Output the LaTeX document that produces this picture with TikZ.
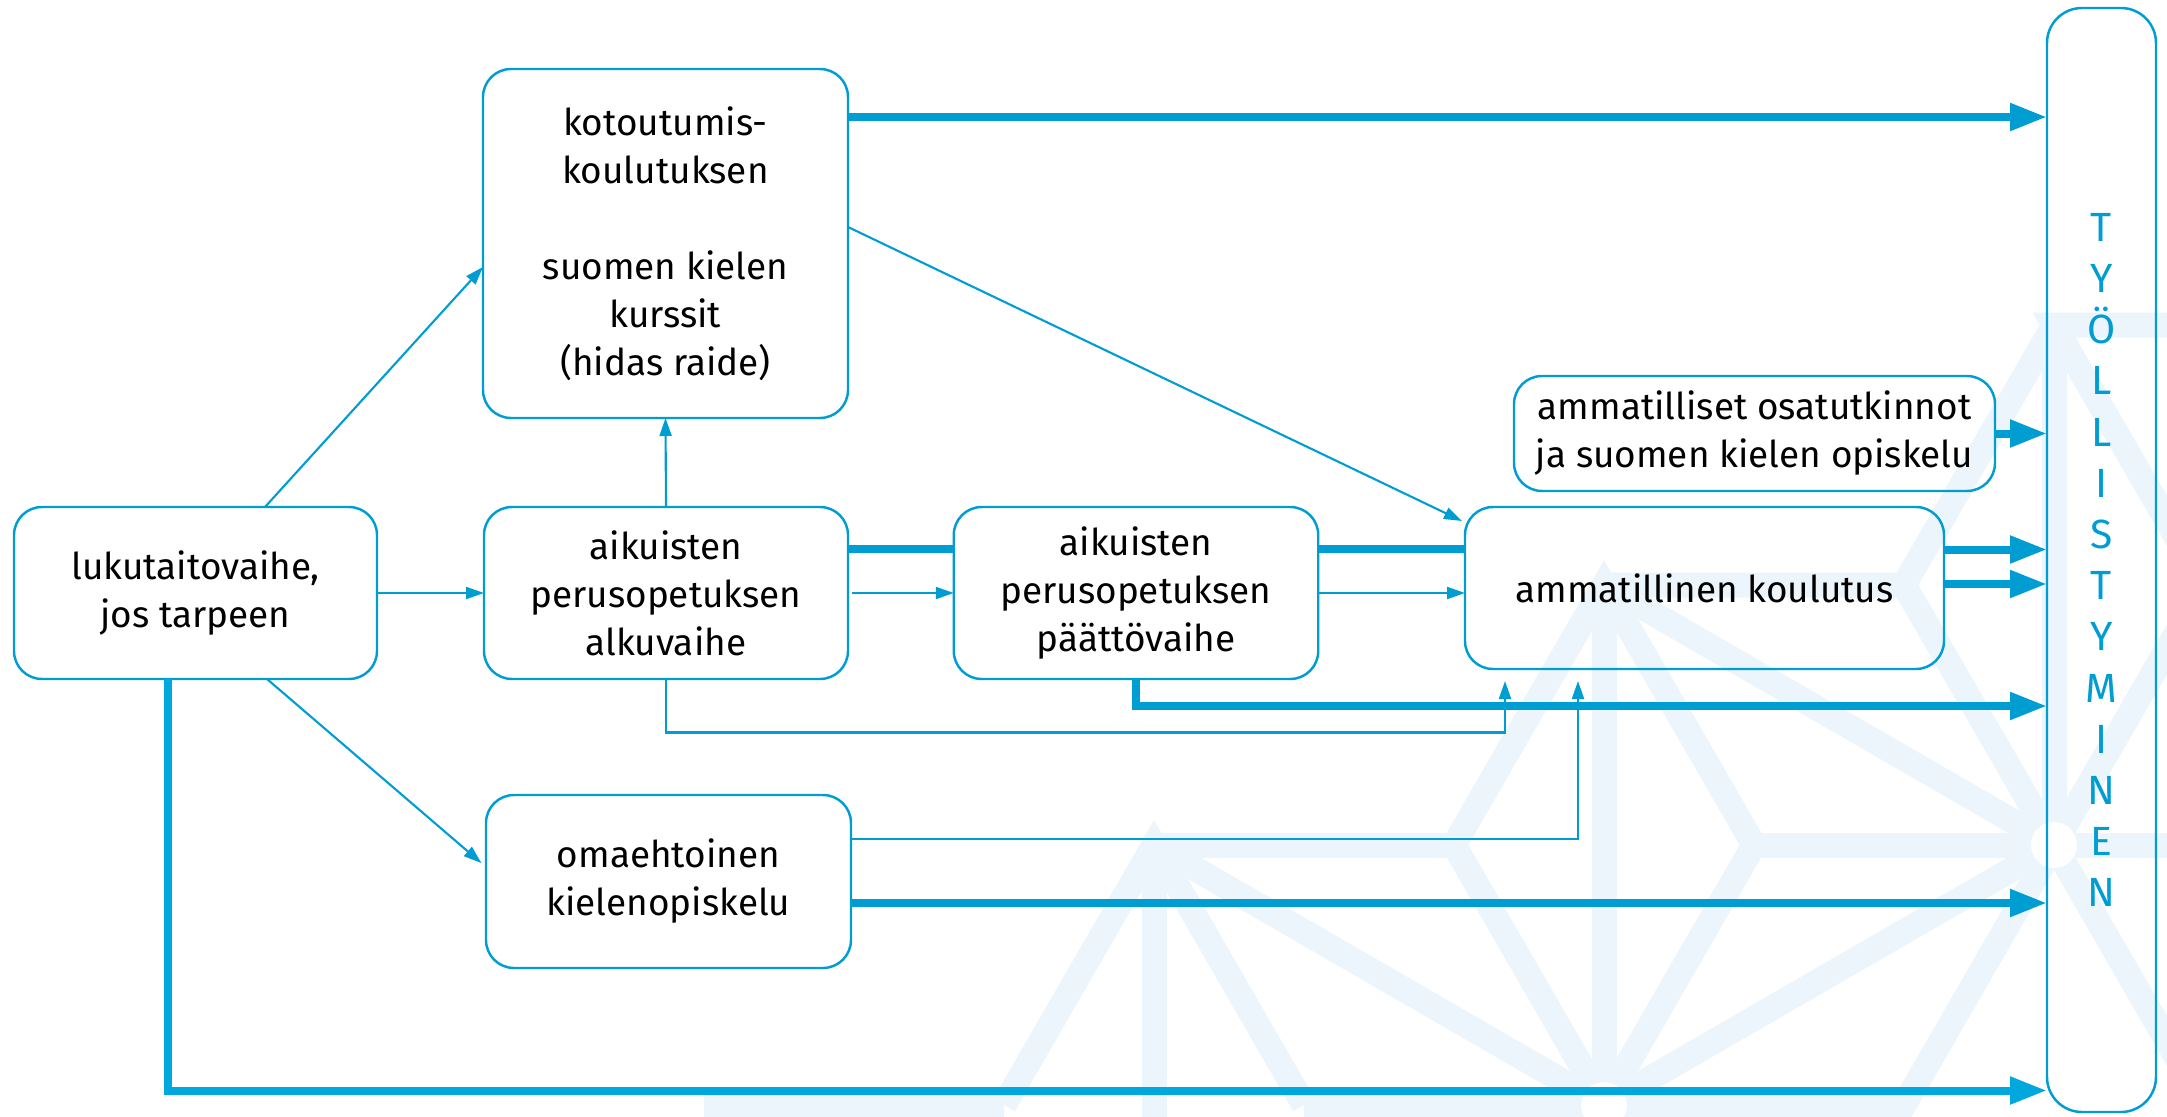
\documentclass[tikz,border=0pt]{standalone}
\usepackage{fontspec}
\setmainfont{Fira Sans}
\usetikzlibrary{arrows.meta}
\usetikzlibrary{positioning,calc}
\definecolor{kblue}{RGB}{0,157,211}
\definecolor{kbright}{RGB}{0,168,222}
\definecolor{wmark}{RGB}{236,245,251}

\begin{document}
\begin{tikzpicture}
		\useasboundingbox (0,0) rectangle (21.67,-11.17);

		\begin{scope}[wmark,line width=0.25cm]
			\clip (0,0) rectangle (21.67,-11.17);
			\coordinate (h2) at (16.04,-11.05);
			\coordinate (h1) at (20.54,-8.45);
			\coordinate (t) at (16.04,-5.85);
			\coordinate (p11) at (20.54,-3.25);
			\coordinate (l3) at (11.54,-8.45);
			\coordinate (pm21) at (7.04,-11.05);
			\coordinate (pm10) at (11.54,-13.65);
			\coordinate (c1) at (14.54,-8.45);
			\coordinate (c2) at (17.54,-8.45);
			\coordinate (c3) at (19.04,-5.85);
			\coordinate (c4) at (10.04,-11.05);
			\coordinate (c5) at (13.04,-11.05);
			\coordinate (c6) at (22.04,-5.85);
			\coordinate (c7) at (19.04,-11.05);
			\coordinate (c8) at (23.54,-8.45);
			\coordinate (c9) at (22.04,-11.05);
			\coordinate (c10) at (23.54,-3.25);
			\draw (h2) -- (c1) -- (t) -- (c2) -- cycle;
			\draw (t) -- (h2);
			\draw (l3) -- (c1);
			\draw (c2) -- (h1);
			\draw (l3) -- (h2) -- (h1) -- (t);
			\draw (t) -- (c3) -- (p11);
			\draw (c3) -- (h1);
			\draw (c4) -- (l3) -- (c5);
			\draw (l3) -- (pm10);
			\draw (pm21) -- (c4);
			\draw (c5) -- (h2) -- (c7) -- (h1);
			\draw (p11) -- (h1);
			\draw (h1) -- (c6) -- (p11) -- (c10);
			\draw (h1) -- (c8);
			\draw (h1) -- (c9);
			\fill[white] (h1) circle (0.23);
			\fill[white] (h2) circle (0.23);
		\end{scope}

		\begin{scope}[every node/.style={draw=kblue,line width=0.7pt,rounded corners=0.28cm,
				align=center,inner sep=0pt,outer sep=0pt,font={\fontsize{10.5}{13.66}\selectfont}}]
			\node[minimum width=3.63cm,minimum height=1.72cm] (luku) at (1.955,-5.93) {lukutaitovaihe,\\jos tarpeen};
			\node[minimum width=3.65cm,minimum height=3.49cm] (kotou) at (6.655,-2.435) {kotoutumis-\\koulutuksen\\[0.48cm]suomen kielen\\kurssit\\(hidas raide)};
			\node[minimum width=3.64cm,minimum height=1.72cm] (alku) at (6.66,-5.93) {aikuisten\\perusopetuksen\\alkuvaihe};
			\node[minimum width=3.645cm,minimum height=1.72cm] (paatto) at (11.36,-5.93) {aikuisten\\perusopetuksen\\päättövaihe};
			\node[minimum width=4.79cm,minimum height=1.62cm] (amma) at (17.045,-5.88) {ammatillinen koulutus};
			\node[minimum width=4.81cm,minimum height=1.15cm] (osa) at (17.545,-4.335) {ammatilliset osatutkinnot\\ja suomen kielen opiskelu};
			\node[minimum width=3.65cm,minimum height=1.73cm] (omae) at (6.685,-8.815) {omaehtoinen\\kielenopiskelu};
			\node[minimum width=1.09cm,minimum height=11.04cm,rounded corners=0.35cm,text=kblue,
				font={\fontsize{11.6}{14.57}\selectfont}] (tyo) at (21.015,-5.60)
				{T\\Y\\Ö\\L\\L\\I\\S\\T\\Y\\M\\I\\N\\E\\N};
		\end{scope}

		\coordinate (ain1) at (15.05,-6.81);
		\coordinate (ain2) at (15.78,-6.81);

		\begin{scope}[>={Triangle[length=0.18cm,width=0.12cm]},kblue,line width=0.6pt,
				heavy/.style={line width=0.08cm,-{Triangle[length=0.37cm,width=0.26cm]}},
				bar/.style={line width=0.08cm}]
			\draw[->] (luku.north -| 2.65,0) -- (kotou.west |- 0,-2.67);
			\draw[->] (luku.east) -- (alku.west);
			\draw[->,shorten >=0.06cm] (luku.south -| 2.67,0) -- (omae.west |- 0,-8.67);
			\draw[->] (alku.north) -- (kotou.south);
			\draw[->] (kotou.east |- 0,-2.27) -- ([shift={(-0.03,-0.14)}]amma.north west);
			\draw[bar] (alku.east |- 0,-5.49) -- (paatto.west |- 0,-5.49);
			\draw[->,shorten <=0.04cm] (alku.east) -- (paatto.west);
			\draw[bar] (paatto.east |- 0,-5.49) -- (amma.west |- 0,-5.49);
			\draw[->] (paatto.east) -- (amma.west |- paatto.east);
			\draw[->] (alku.south) -- ++(0,-0.535) -| (ain1);
			\draw[->] (omae.east |- 0,-8.39) -| (ain2);

			\draw[heavy] (kotou.east |- 0,-1.17) -- (tyo.west |- 0,-1.17);
			\draw[heavy] (osa.east) -- (tyo.west |- osa.east);
			\draw[heavy] (amma.east |- 0,-5.495) -- (tyo.west |- 0,-5.495);
			\draw[heavy] (amma.east |- 0,-5.84) -- (tyo.west |- 0,-5.84);
			\draw[heavy] (paatto.south) |- (tyo.west |- 0,-7.06);
			\draw[heavy] (omae.east |- 0,-9.03) -- (tyo.west |- 0,-9.03);
			\draw[heavy,kbright] (luku.south -| 1.68,0) |- (tyo.west |- 0,-10.905);
		\end{scope}
	\end{tikzpicture}
\end{document}
